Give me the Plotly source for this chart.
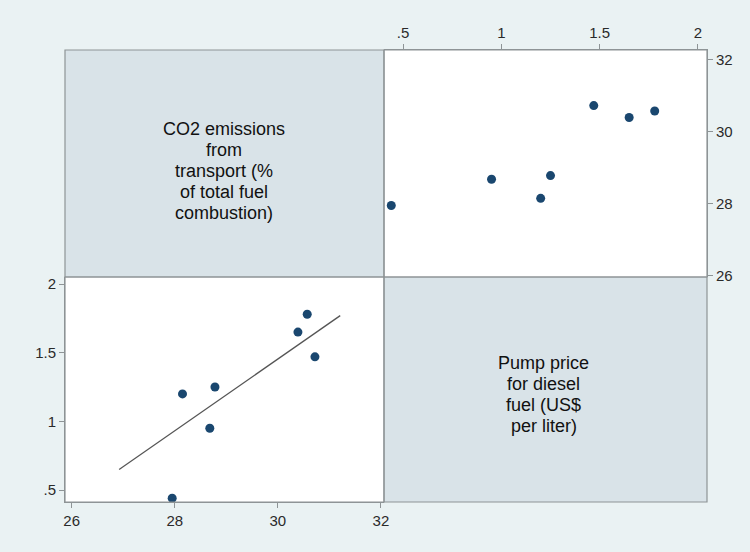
import plotly.graph_objects as go

# ---- data ----
co2 = [27.95, 28.68, 28.15, 28.78, 30.72, 30.39, 30.57]     # CO2 emissions from transport (% of total fuel combustion)
price = [0.44, 0.95, 1.20, 1.25, 1.47, 1.65, 1.78]          # Pump price for diesel fuel (US$ per liter)

fit_co2 = [26.92, 31.21]
fit_price = [0.65, 1.77]

co2_ticks = [26, 28, 30, 32]
co2_ticklabels = ["26", "28", "30", "32"]
price_ticks = [0.5, 1, 1.5, 2]
price_ticklabels = [".5", "1", "1.5", "2"]

label_co2 = ["CO2 emissions", "from", "transport (%", "of total fuel", "combustion)"]
label_price = ["Pump price", "for diesel", "fuel (US$", "per liter)"]

# ---- style ----
BG = "#EAF2F3"
DIAG = "#D9E3E8"
FRAME = "#8E9496"
MARK = "#1A476F"
TXT = "#2a2a2a"
FONT = "Arial, Liberation Sans, sans-serif"

W, H = 750, 552
L, R, T, B = 65, 43, 50, 50
dx = (384 - L) / (W - L - R)
dy = (H - B - 277) / (H - T - B)

fig = go.Figure()

# bottom-left: price (y) vs co2 (x)
fig.add_trace(go.Scatter(x=co2, y=price, mode="markers",
                         marker=dict(color=MARK, size=9), xaxis="x", yaxis="y",
                         showlegend=False, hoverinfo="x+y"))
fig.add_trace(go.Scatter(x=fit_co2, y=fit_price, mode="lines",
                         line=dict(color="#555555", width=1.3), xaxis="x", yaxis="y",
                         showlegend=False))
# top-right: co2 (y) vs price (x)
fig.add_trace(go.Scatter(x=price, y=co2, mode="markers",
                         marker=dict(color=MARK, size=9), xaxis="x2", yaxis="y2",
                         showlegend=False, hoverinfo="x+y"))

axcommon = dict(showgrid=False, zeroline=False, showline=True, linecolor=FRAME,
                linewidth=1, ticks="outside", ticklen=5, tickcolor=FRAME, tickwidth=1,
                tickfont=dict(family=FONT, size=15, color=TXT), fixedrange=True)

fig.update_layout(
    width=W, height=H,
    margin=dict(l=L, r=R, t=T, b=B, pad=0),
    paper_bgcolor=BG, plot_bgcolor="white",
    xaxis=dict(domain=[0, dx], anchor="y", range=[25.87, 32.06],
               tickvals=co2_ticks, ticktext=co2_ticklabels, **axcommon),
    yaxis=dict(domain=[0, dy], anchor="x", range=[0.413, 2.051],
               tickvals=price_ticks, ticktext=price_ticklabels, **axcommon),
    xaxis2=dict(domain=[dx, 1], anchor="y2", side="top", range=[0.403, 2.046],
                tickvals=price_ticks, ticktext=price_ticklabels, **axcommon),
    yaxis2=dict(domain=[dy, 1], anchor="x2", side="right", range=[25.97, 32.26],
                tickvals=co2_ticks, ticktext=co2_ticklabels, **axcommon),
    showlegend=False,
)

shapes = []
# diagonal panels (filled)
shapes.append(dict(type="rect", xref="paper", yref="paper", x0=0, x1=dx, y0=dy, y1=1,
                   fillcolor=DIAG, line=dict(color=FRAME, width=1.2), layer="below"))
shapes.append(dict(type="rect", xref="paper", yref="paper", x0=dx, x1=1, y0=0, y1=dy,
                   fillcolor=DIAG, line=dict(color=FRAME, width=1.2), layer="below"))
# frames of the scatter panels
shapes.append(dict(type="rect", xref="paper", yref="paper", x0=0, x1=dx, y0=0, y1=dy,
                   line=dict(color=FRAME, width=1.2), layer="above"))
shapes.append(dict(type="rect", xref="paper", yref="paper", x0=dx, x1=1, y0=dy, y1=1,
                   line=dict(color=FRAME, width=1.2), layer="above"))
fig.update_layout(shapes=shapes)

ann = []
step = 21
def add_block(lines, xc, yc):
    n = len(lines)
    for i, s in enumerate(lines):
        ann.append(dict(text=s, xref="paper", yref="paper", x=xc, y=yc,
                        yshift=-(i - (n - 1) / 2) * step, showarrow=False,
                        xanchor="center", yanchor="middle",
                        font=dict(family=FONT, size=18, color="#111111")))

add_block(label_co2, (224 - L) / (W - L - R), (H - B - 171) / (H - T - B))
add_block(label_price, (543.5 - L) / (W - L - R), (H - B - 394.5) / (H - T - B))
fig.update_layout(annotations=ann)

fig.write_html("out.html", config={"displayModeBar": False},
               post_script="document.body.style.margin='0';document.body.style.background='%s';" % BG)
